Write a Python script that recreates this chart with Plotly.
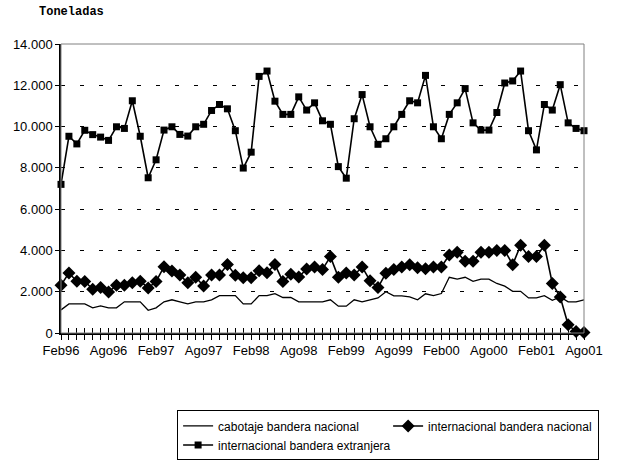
import plotly.graph_objects as go

# Monthly series, Feb96 .. Ago01 (tonnes)
month_names = ["Ene", "Feb", "Mar", "Abr", "May", "Jun",
               "Jul", "Ago", "Sep", "Oct", "Nov", "Dic"]
months = [f"{month_names[(1 + i) % 12]}{(96 + (1 + i) // 12) % 100:02d}" for i in range(67)]

cabotaje_nacional = [
    1120, 1410, 1410, 1410, 1220, 1310, 1220, 1220, 1510, 1510, 1510, 1100,
    1220, 1510, 1610, 1510, 1410, 1510, 1510, 1610, 1810, 1810, 1810, 1410,
    1410, 1810, 1810, 1910, 1720, 1720, 1510, 1510, 1510, 1510, 1610, 1300,
    1300, 1610, 1510, 1610, 1700, 2000, 1800, 1800, 1750, 1610, 1900, 1810,
    1910, 2700, 2610, 2700, 2500, 2610, 2610, 2400, 2270, 2020, 2020, 1700,
    1700, 1810, 1580, 1750, 1510, 1510, 1610,
]

internacional_nacional = [
    2310, 2910, 2510, 2500, 2120, 2200, 1990, 2310, 2310, 2430, 2510, 2180,
    2500, 3210, 3000, 2810, 2430, 2700, 2280, 2810, 2810, 3320, 2800, 2680,
    2680, 3010, 2920, 3320, 2490, 2840, 2710, 3100, 3200, 3080, 3700, 2700,
    2910, 2810, 3200, 2530, 2200, 2900, 3080, 3200, 3310, 3160, 3110, 3200,
    3200, 3780, 3910, 3480, 3480, 3910, 3910, 4000, 4000, 3310, 4250, 3700,
    3700, 4250, 2400, 1740, 400, 70, 30,
]

internacional_extranjera = [
    7200, 9530, 9160, 9820, 9610, 9490, 9330, 9990, 9910, 11250, 9530, 7520,
    8390, 9830, 9990, 9620, 9540, 9990, 10110, 10780, 11070, 10860, 9800, 7990,
    8760, 12430, 12690, 11230, 10590, 10590, 11440, 10800, 11150, 10280, 10110, 8060,
    7500, 10380, 11550, 9990, 9140, 9410, 9990, 10590, 11250, 11150, 12480, 9990,
    9410, 10590, 11150, 11840, 10180, 9830, 9830, 10680, 12110, 12210, 12690, 9800,
    8870, 11070, 10800, 12030, 10180, 9910, 9800,
]

tick_text = [m if i % 6 == 0 else "" for i, m in enumerate(months)]

font_axis = "Liberation Sans Narrow, Arial Narrow, Liberation Sans, Arial"

fig = go.Figure()

fig.add_trace(go.Scatter(
    x=months, y=cabotaje_nacional, mode="lines",
    name="cabotaje bandera nacional",
    line=dict(color="black", width=1.3),
))
fig.add_trace(go.Scatter(
    x=months, y=internacional_nacional, mode="lines+markers",
    name="internacional bandera nacional",
    line=dict(color="black", width=1.6),
    marker=dict(symbol="diamond", size=10, color="black"),
    cliponaxis=False,
))
fig.add_trace(go.Scatter(
    x=months, y=internacional_extranjera, mode="lines+markers",
    name="internacional bandera extranjera",
    line=dict(color="black", width=1.6),
    marker=dict(symbol="square", size=7, color="black"),
    cliponaxis=False,
))
# empty trace so the overlay axis (inner half of the crossing ticks) is drawn
fig.add_trace(go.Scatter(
    x=months, y=[None] * len(months), xaxis="x2", showlegend=False,
    hoverinfo="skip", mode="lines",
))

fig.update_layout(
    width=617, height=460,
    margin=dict(l=61, r=33, t=44, b=127, autoexpand=False),
    paper_bgcolor="white", plot_bgcolor="white",
    separators=",.",
    showlegend=True,
    legend=dict(
        orientation="h",
        x=0.222, xanchor="left",
        y=-0.268, yanchor="top",
        entrywidth=165, entrywidthmode="pixels",
        font=dict(family="Liberation Sans", size=12, color="black"),
        bgcolor="white", bordercolor="black", borderwidth=1,
        tracegroupgap=0,
    ),
    xaxis=dict(
        type="category", range=[0, 66],
        tickmode="array", tickvals=months, ticktext=tick_text,
        ticks="outside", ticklen=5, tickcolor="black", tickwidth=1,
        showline=True, linecolor="black", linewidth=1.5,
        showgrid=False, zeroline=False,
        tickfont=dict(family=font_axis, size=13, color="black"),
        tickangle=0,
    ),
    xaxis2=dict(
        type="category", overlaying="x", matches="x",
        tickmode="array", tickvals=months, ticktext=[""] * len(months),
        ticks="inside", ticklen=5, tickcolor="black", tickwidth=1,
        showline=False, showgrid=False, zeroline=False,
    ),
    yaxis=dict(
        range=[0, 14000], dtick=2000, tickformat=",d",
        ticks="outside", ticklen=4, tickcolor="black",
        showline=True, linecolor="black", linewidth=1.5,
        showgrid=True, gridcolor="black", gridwidth=1, griddash="4px,15px",
        zeroline=False,
        tickfont=dict(family=font_axis, size=13, color="black"),
    ),
    shapes=[dict(
        type="rect", xref="paper", yref="paper", x0=0, x1=1, y0=0, y1=1,
        line=dict(color="#808080", width=1), layer="above",
    )],
    annotations=[dict(
        text="<b>Toneladas</b>", xref="paper", yref="paper",
        x=-0.046, y=1.11, xanchor="left", yanchor="middle", showarrow=False,
        font=dict(family="Liberation Mono, Courier New, monospace", size=12, color="black"),
    )],
)

# drop the browser's default 8px body margin so the figure sits at the page corner
fig.write_html(
    "out.html",
    config={"displayModeBar": False},
    post_script="document.body.style.margin = '0px';",
)
